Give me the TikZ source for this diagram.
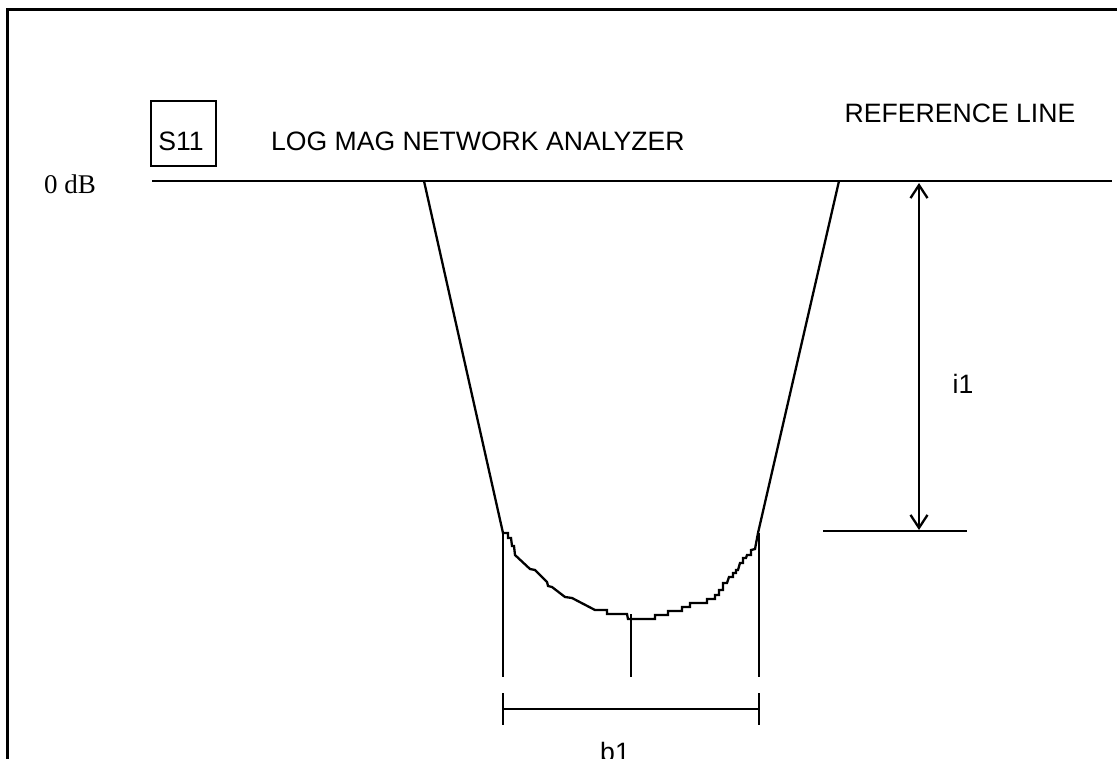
\documentclass[tikz,border=0pt]{standalone}
\usepackage{fontspec}
\setmainfont{Liberation Serif}
\setsansfont{Liberation Sans}
\usetikzlibrary{arrows.meta}
\begin{document}
\begin{tikzpicture}[x=1pt,y=-1pt,
  line/.style={line width=2.3pt,line join=miter},
  lbl/.style={font=\sffamily\fontsize{26.6}{30}\selectfont,inner sep=0pt},
  serif/.style={font=\rmfamily\fontsize{27}{30}\selectfont,inner sep=0pt},
  dimarrow/.style={line width=2.3pt,{Straight Barb[length=13pt,width=17pt,line width=2.3pt]}-{Straight Barb[length=13pt,width=17pt,line width=2.3pt]}}]
\useasboundingbox (0,0) rectangle (1117,759);
\clip (0,0) rectangle (1117,759);
% frame
\coordinate (fb) at (7,762);
\coordinate (ftl) at (7,10);
\coordinate (fr) at (1120,10);
\draw[line width=3pt] (fb) -- (ftl) -- (fr);
% labels
\node[draw,line width=2.3pt,minimum width=65pt,minimum height=65pt,inner sep=0pt] (box) at (183.5,133.5) {};
\node[lbl] (s11) at (181,141) {S11};
\node[lbl,anchor=west] (title) at (271,141) {LOG MAG NETWORK ANALYZER};
\node[lbl] (ref) at (960,113) {REFERENCE LINE};
\node[serif] (zero) at (70,184) {0 dB};
\node[lbl] (i1) at (963,384) {i1};
\node[lbl] (b1) at (615,752) {b1};
% reference line
\coordinate (rl0) at (152,181);
\coordinate (rl1) at (1112,181);
\draw[line] (rl0) -- (rl1);
% trace
\coordinate (L0) at (424,181);
\coordinate (L1) at (503,533);
\coordinate (R1) at (758,533);
\coordinate (R0) at (839,181);
\coordinate (M) at (631,619);
\draw[line] (L0) -- (L1) -- (508,533) -- (508,538) -- (511,538) -- (512,546) -- (514,546) -- (515,555)
  -- (530,569) -- (535,570) -- (547,582) -- (548,586) -- (552,587) -- (565,597) -- (572,598)
  -- (595,610) -- (607,610) -- (607,614) -- (627,614) -- (628,619) -- (M)
  -- (655,619) -- (655,615) -- (668,615) -- (668,611) -- (682,611) -- (682,607) -- (690,607)
  -- (690,603) -- (707,603) -- (707,599) -- (715,599) -- (715,595) -- (719,595) -- (719,590)
  -- (723,590) -- (723,583) -- (727,583) -- (729,577) -- (733,577) -- (733,573) -- (736,573)
  -- (736,570) -- (738,570) -- (740,563) -- (743,563) -- (743,558) -- (746,558) -- (747,555)
  -- (751,555) -- (751,550) -- (755,549) -- (R1) -- (R0);
% verticals
\coordinate (Lb) at (503,677);
\coordinate (Rb) at (759,677);
\coordinate (Mt) at (631,614);
\coordinate (Mb) at (631,677);
\coordinate (Rt) at (759,533);
\draw[line] (L1) -- (Lb);
\draw[line] (Rt) -- (Rb);
\draw[line] (Mt) -- (Mb);
% b1 dimension
\coordinate (bl) at (503,709);
\coordinate (br) at (759,709);
\draw[line] (bl) -- (br);
\draw[line] (503,693) -- (503,725);
\draw[line] (759,693) -- (759,725);
% i1 dimension
\coordinate (it) at (919,183);
\coordinate (ib) at (919,530);
\coordinate (il) at (823,531);
\coordinate (ir) at (967,531);
\draw[line] (il) -- (ir);
\draw[dimarrow] (ib) -- (it);
\end{tikzpicture}
\end{document}
